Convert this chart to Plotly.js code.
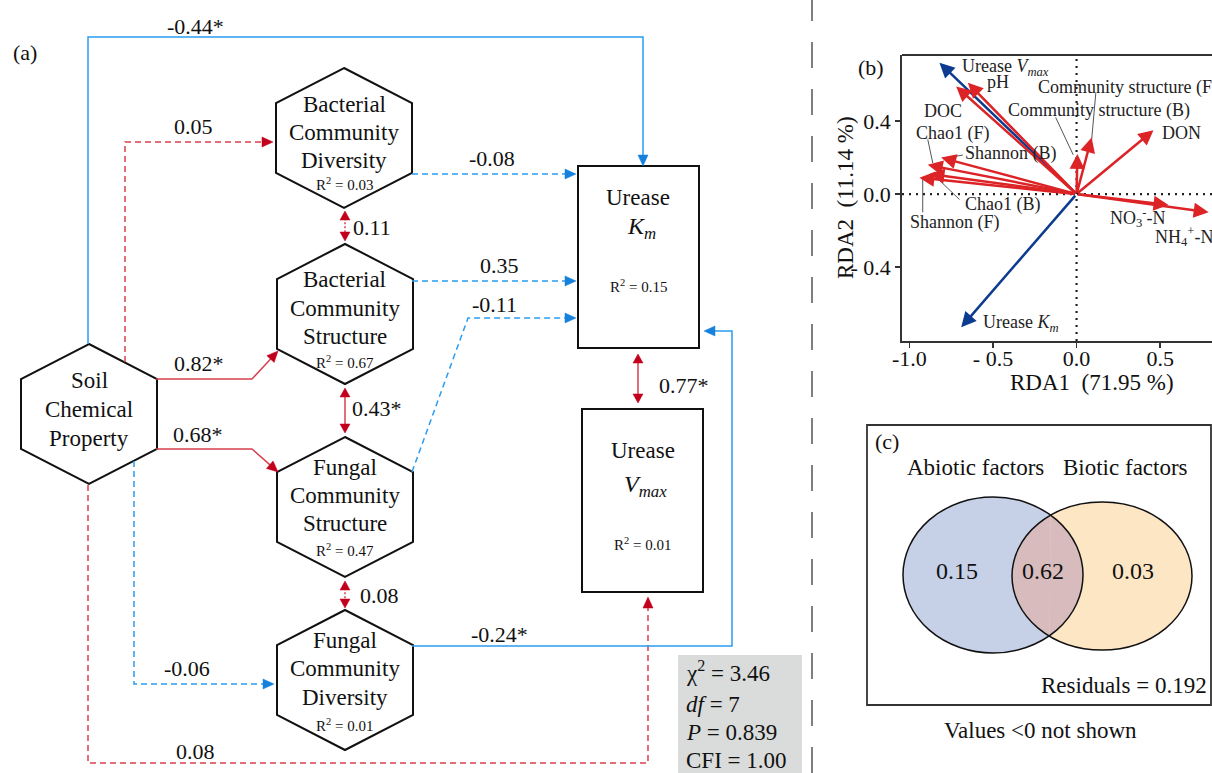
<!DOCTYPE html>
<html><head><meta charset="utf-8">
<script src="https://cdn.plot.ly/plotly-3.0.1.min.js"></script>
<style>html,body{margin:0;padding:0;background:#fff;}#chart{width:1212px;height:773px;}</style>
</head><body><div id="chart"></div>
<script>
// ================= DATA =================
// (a) structural equation model
const nodeLabels = [
  ['Soil', 'Chemical', 'Property'],
  ['Bacterial', 'Community', 'Diversity'],
  ['Bacterial', 'Community', 'Structure'],
  ['Fungal', 'Community', 'Structure'],
  ['Fungal', 'Community', 'Diversity']
];
const nodeR2 = [null, 0.03, 0.67, 0.47, 0.01];
const enzymeLabels = ['<i>K</i><sub><i>m</i></sub>', '<i>V</i><sub><i>max</i></sub>'];
const enzymeR2 = [0.15, 0.01];
// path coefficients (order: SCP->Km, SCP->BCD, SCP->BCS, SCP->FCS, SCP->FCD, SCP->Vmax,
// BCD->Km, BCS->Km, FCS->Km, FCD->Km, BCD<->BCS, BCS<->FCS, FCS<->FCD, Km<->Vmax)
const pathCoef = [-0.44, 0.05, 0.82, 0.68, -0.06, 0.08, -0.08, 0.35, -0.11, -0.24, 0.11, 0.43, 0.08, 0.77];
const pathSig  = [true, false, true, true, false, false, false, false, false, true, false, true, false, true];
// effect direction as coloured in the figure (red = positive, blue = negative)
const pathEffect = ['neg', 'pos', 'pos', 'pos', 'neg', 'pos', 'neg', 'neg', 'neg', 'neg', 'pos', 'pos', 'pos', 'pos'];
const pathIsCorrelation = [false, false, false, false, false, false, false, false, false, false, true, true, true, true];
const fitNames  = ['χ<sup>2</sup>', '<i>df</i>', '<i>P</i>', 'CFI'];
const fitValues = ['3.46', '7', '0.839', '1.00'];

// (b) RDA biplot
const rdaVars = ['Urease <i>V</i><sub><i>max</i></sub>', 'pH', 'DOC', 'Chao1 (F)', 'Shannon (B)', 'Shannon (F)',
  'Chao1 (B)', 'Community structure (B)', 'Community structure (F)', 'DON',
  'NO<sub>3</sub><sup>-</sup>-N', 'NH<sub>4</sub><sup>+</sup>-N', 'Urease <i>K</i><sub><i>m</i></sub>'];
const rdaX = [-0.82, -0.65, -0.72, -0.89, -0.81, -0.94, -0.88, 0.005, 0.09, 0.46, 0.55, 0.79, -0.69];
const rdaY = [0.72, 0.61, 0.59, 0.16, 0.20, 0.09, 0.11, 0.22, 0.31, 0.35, -0.06, -0.10, -0.73];
const rdaIsResponse = [true, false, false, false, false, false, false, false, false, false, false, false, true];
const rdaAxisTitles = ['RDA1  (71.95 %)', 'RDA2  (11.14 %)'];
const rdaXTicks = [-1.0, -0.5, 0.0, 0.5];
const rdaXTickText = ['-1.0', '- 0.5', '0.0', '0.5'];
const rdaYTicks = [-0.4, 0.0, 0.4];
const rdaYTickText = ['- 0.4', '0.0', '0.4'];

// (c) variation partitioning
const vennSets = ['Abiotic factors', 'Biotic factors'];
const vennValues = [0.15, 0.62, 0.03];
const vennResidual = 0.192;
const vennNote = 'Values <0 not shown';

// ================= LAYOUT HELPERS =================
const W = 1212, H = 773;
const FONT = '"Liberation Serif", "Times New Roman", Times, serif';
const px = x => x / W, py = y => 1 - y / H;
const f = v => v.toFixed(5);
function pathP(pts, close) {
  return pts.map((p, i) => (i ? 'L' : 'M') + f(px(p[0])) + ',' + f(py(p[1]))).join(' ') + (close ? ' Z' : '');
}
const shapes = [], annotations = [];
function txt(x, y, text, size, opts) {
  annotations.push(Object.assign({xref: 'paper', yref: 'paper', x: px(x), y: py(y), text: text, showarrow: false,
    xanchor: 'center', yanchor: 'middle', font: {family: FONT, size: size, color: '#111'}}, opts || {}));
}
function line(pts, color, width, dash) {
  shapes.push({type: 'path', xref: 'paper', yref: 'paper', path: pathP(pts, false),
    line: {color: color, width: width, dash: dash || 'solid'}, fillcolor: 'rgba(0,0,0,0)'});
}
function head(tip, from, color, L, w) {
  const dx = tip[0] - from[0], dy = tip[1] - from[1], len = Math.hypot(dx, dy);
  const ux = dx / len, uy = dy / len, nx = -uy, ny = ux;
  const bx = tip[0] - ux * L, by = tip[1] - uy * L;
  shapes.push({type: 'path', xref: 'paper', yref: 'paper',
    path: pathP([tip, [bx + nx * w, by + ny * w], [bx - nx * w, by - ny * w]], true),
    fillcolor: color, line: {color: color, width: 0.5}});
}
function pullBack(a, b, d) {
  const dx = b[0] - a[0], dy = b[1] - a[1], len = Math.hypot(dx, dy);
  return [b[0] - dx / len * d, b[1] - dy / len * d];
}

// ================= (a) SEM =================
const RED_LINE = '#d8404f', RED_HEAD = '#c3001c', BLUE_LINE = '#2b9cf0', BLUE_HEAD = '#1681dc';
const hexGeom = [{cx: 89, cy: 414}, {cx: 344, cy: 138}, {cx: 345, cy: 314}, {cx: 345, cy: 507}, {cx: 345, cy: 680}];
const hexTextDy = [[-34, -5, 24], [-34, -6, 22], [-34, -6, 22], [-40, -12, 16], [-40, -12, 17]];
const hexR2Dy = [0, 46, 48, 43, 45];
const HW = 68, HH = 70, HS = 35;
hexGeom.forEach((g, i) => {
  const {cx, cy} = g;
  shapes.push({type: 'path', xref: 'paper', yref: 'paper', line: {color: '#111', width: 2}, fillcolor: 'rgba(0,0,0,0)',
    path: pathP([[cx, cy - HH], [cx + HW, cy - HS], [cx + HW, cy + HS], [cx, cy + HH], [cx - HW, cy + HS], [cx - HW, cy - HS]], true)});
  nodeLabels[i].forEach((t, k) => txt(cx, cy + hexTextDy[i][k], t, 23));
  if (nodeR2[i] !== null) txt(cx, cy + hexR2Dy[i], 'R<sup>2</sup> = ' + nodeR2[i].toFixed(2), 15);
});
const boxGeom = [{x0: 578, x1: 699, y0: 166, y1: 348, ty: [197, 228, 286]}, {x0: 582, x1: 703, y0: 409, y1: 592, ty: [450, 486, 544]}];
boxGeom.forEach((b, i) => {
  shapes.push({type: 'rect', xref: 'paper', yref: 'paper', x0: px(b.x0), x1: px(b.x1), y0: py(b.y1), y1: py(b.y0),
    line: {color: '#111', width: 2}, fillcolor: 'rgba(0,0,0,0)'});
  const cx = (b.x0 + b.x1) / 2;
  txt(cx, b.ty[0], 'Urease', 23);
  txt(cx + 3, b.ty[1], enzymeLabels[i], 24);
  txt(cx, b.ty[2], 'R<sup>2</sup> = ' + enzymeR2[i].toFixed(2), 15);
});

const pathGeom = [
  {pts: [[88, 344], [88, 37], [643, 37], [643, 166]], lab: [195, 26]},
  {pts: [[125, 362], [125, 142], [273, 142]], lab: [193, 127]},
  {pts: [[156, 379], [252, 379], [278, 351]], lab: [199, 363]},
  {pts: [[156, 449], [252, 449], [278, 472]], lab: [198, 435]},
  {pts: [[134, 461], [134, 684], [274, 684]], lab: [187, 668]},
  {pts: [[88, 485], [88, 763], [648, 763], [648, 597]], lab: [196, 751]},
  {pts: [[412, 174], [576, 174]], lab: [492, 159]},
  {pts: [[412, 281], [576, 281]], lab: [499, 266]},
  {pts: [[412, 472], [468, 318], [576, 318]], lab: [495, 304]},
  {pts: [[412, 646], [732, 646], [732, 331], [704, 331]], lab: [499, 634]},
  {pts: [[345, 211], [345, 241]], lab: [372, 227]},
  {pts: [[345, 388], [345, 433]], lab: [377, 408]},
  {pts: [[345, 581], [345, 608]], lab: [379, 595]},
  {pts: [[638, 354], [638, 403]], lab: [684, 385]}
];
pathCoef.forEach((c, i) => {
  const g = pathGeom[i];
  const pos = pathEffect[i] === 'pos';
  const lc = pos ? RED_LINE : BLUE_LINE, hc = pos ? RED_HEAD : BLUE_HEAD;
  const pts = g.pts.map(p => p.slice());
  const n = pts.length;
  if (pathIsCorrelation[i]) {
    const L = 9, w = 5;
    const a = pts[0], b = pts[n - 1];
    const dash = pathSig[i] ? 'solid' : '2px,2px';
    line([pullBack(b, a, L * 0.8), pullBack(a, b, L * 0.8)], lc, 1.5, dash);
    head(b, a, hc, L, w);
    head(a, b, hc, L, w);
  } else {
    const L = 11, w = 5;
    const tip = pts[n - 1], prev = pts[n - 2];
    const linePts = pts.slice(0, n - 1).concat([pullBack(prev, tip, L * 0.8)]);
    line(linePts, lc, 1.5, pathSig[i] ? 'solid' : '6px,4px');
    head(tip, prev, hc, L, w);
  }
  txt(g.lab[0], g.lab[1], c.toFixed(2) + (pathSig[i] ? '*' : ''), 22);
});

// fit statistics box
shapes.push({type: 'rect', xref: 'paper', yref: 'paper', x0: px(678), x1: px(802), y0: py(773), y1: py(655),
  line: {width: 0}, fillcolor: '#d9dcda', layer: 'below'});
const fitY = [671, 704, 732, 760];
fitNames.forEach((nm, i) => txt(684, fitY[i], nm + ' = ' + fitValues[i], 23, {xanchor: 'left'}));

// separator
shapes.push({type: 'line', xref: 'paper', yref: 'paper', x0: px(812), x1: px(812), y0: py(773), y1: py(0),
  line: {color: '#555', width: 1.5, dash: '26px,21px'}});

// panel labels
txt(25, 52, '(a)', 22);
txt(871, 67, '(b)', 22);
txt(887, 442, '(c)', 22);

// ================= (b) RDA =================
const X_RANGE = [-1.044, 0.81], Y_RANGE = [-0.805, 0.762];
const RDA_RED = '#dc2326', RDA_BLUE = '#0c3b8f';
rdaVars.forEach((v, i) => {
  annotations.push({xref: 'x', yref: 'y', axref: 'x', ayref: 'y', x: rdaX[i], y: rdaY[i], ax: 0, ay: 0, text: '',
    showarrow: true, arrowhead: 2, arrowsize: 1.2, arrowwidth: 2.5, arrowcolor: rdaIsResponse[i] ? RDA_BLUE : RDA_RED, standoff: 0});
});
const rdaLabelPos = [
  [-0.70, 0.695, 'left'], [-0.47, 0.615, 'center'], [-0.80, 0.455, 'center'], [-0.97, 0.33, 'left'],
  [-0.68, 0.22, 'left'], [-1.01, -0.153, 'left'], [-0.68, -0.055, 'left'], [-0.42, 0.46, 'left'],
  [-0.24, 0.586, 'left'], [0.50, 0.334, 'left'], [0.19, -0.13, 'left'], [0.455, -0.235, 'left'], [-0.57, -0.71, 'left']
];
rdaVars.forEach((v, i) => {
  const p = rdaLabelPos[i];
  annotations.push({xref: 'x', yref: 'y', x: p[0], y: p[1], text: v, showarrow: false, xanchor: p[2], yanchor: 'middle',
    font: {family: FONT, size: 18, color: '#222'}});
});
const leaders = [
  [[0.115, 0.553], [0.09, 0.295]], [[-0.125, 0.42], [-0.02, 0.215]], [[-0.89, 0.30], [-0.86, 0.17]],
  [[-0.68, 0.214], [-0.77, 0.20]], [[-0.70, -0.03], [-0.84, 0.093]], [[-0.92, -0.10], [-0.92, 0.088]]
];
leaders.forEach(l => shapes.push({type: 'line', xref: 'x', yref: 'y', x0: l[0][0], y0: l[0][1], x1: l[1][0], y1: l[1][1],
  line: {color: '#555', width: 1}}));
shapes.push({type: 'line', xref: 'x', yref: 'y', x0: 0, x1: 0, y0: Y_RANGE[0], y1: Y_RANGE[1], line: {color: '#222', width: 2.2, dash: '2px,5px'}});
shapes.push({type: 'line', xref: 'x', yref: 'y', x0: X_RANGE[0], x1: X_RANGE[1], y0: 0, y1: 0, line: {color: '#222', width: 2.2, dash: '2px,5px'}});
shapes.push({type: 'line', xref: 'paper', yref: 'paper', x0: px(902), x1: 1, y0: py(55), y1: py(55), line: {color: '#333', width: 1.8}});
txt(1092, 383, rdaAxisTitles[0], 23);
txt(845, 198, rdaAxisTitles[1], 23, {textangle: -90});

// ================= (c) Venn =================
shapes.push({type: 'rect', xref: 'paper', yref: 'paper', x0: px(867), x1: px(1211), y0: py(705), y1: py(425),
  line: {color: '#333', width: 1.8}, fillcolor: 'rgba(0,0,0,0)'});
const E1 = {cx: 993, cy: 575, rx: 90, ry: 78}, E2 = {cx: 1102, cy: 576, rx: 90, ry: 74};
function ell(e, fill, lw) {
  shapes.push({type: 'circle', xref: 'paper', yref: 'paper', x0: px(e.cx - e.rx), x1: px(e.cx + e.rx),
    y0: py(e.cy + e.ry), y1: py(e.cy - e.ry), fillcolor: fill, line: {color: '#111', width: lw}});
}
ell(E1, '#c6d0e6', 0);
ell(E2, '#fde6c4', 0);
const inside = (e, x, y) => ((x - e.cx) / e.rx) ** 2 + ((y - e.cy) / e.ry) ** 2 <= 1;
const lens = [];
for (let k = -900; k <= 900; k++) { const t = k / 1000 * Math.PI / 2 * 1.2; const x = E1.cx + E1.rx * Math.cos(t), y = E1.cy + E1.ry * Math.sin(t); if (inside(E2, x, y)) lens.push([x, y]); }
for (let k = -900; k <= 900; k++) { const t = Math.PI + k / 1000 * Math.PI / 2 * 1.2; const x = E2.cx + E2.rx * Math.cos(-t), y = E2.cy + E2.ry * Math.sin(-t); if (inside(E1, x, y)) lens.push([x, y]); }
shapes.push({type: 'path', xref: 'paper', yref: 'paper', path: pathP(lens, true), fillcolor: '#d8bcbd', line: {width: 0}});
ell(E1, 'rgba(0,0,0,0)', 1.5);
ell(E2, 'rgba(0,0,0,0)', 1.5);
txt(975, 467, vennSets[0], 23);
txt(1125, 467, vennSets[1], 23);
txt(957, 571, vennValues[0].toFixed(2), 24);
txt(1043, 571, vennValues[1].toFixed(2), 24);
txt(1133, 571, vennValues[2].toFixed(2), 24);
txt(1209, 685, 'Residuals = ' + vennResidual.toFixed(3), 23, {xanchor: 'right'});
txt(1040, 730, vennNote.replace('<', '&lt;'), 23);

// ================= PLOT =================
const traces = [{type: 'scatter', x: rdaX, y: rdaY, mode: 'markers', marker: {opacity: 0}, hoverinfo: 'skip', showlegend: false}];
const layout = {
  width: W, height: H, margin: {l: 0, r: 0, t: 0, b: 0}, paper_bgcolor: '#fff', plot_bgcolor: 'rgba(0,0,0,0)',
  showlegend: false, hovermode: false,
  font: {family: FONT},
  xaxis: {domain: [902 / W, 1], range: X_RANGE, showgrid: false, zeroline: false, showline: true, linecolor: '#333', linewidth: 1.8,
    ticks: 'outside', ticklen: 5, tickwidth: 1.5, tickcolor: '#333', tickvals: rdaXTicks, ticktext: rdaXTickText,
    ticklabelstandoff: -8, tickfont: {family: FONT, size: 22, color: '#111'}, fixedrange: true},
  yaxis: {domain: [1 - 341 / H, 1 - 55 / H], range: Y_RANGE, showgrid: false, zeroline: false, showline: true, linecolor: '#333', linewidth: 1.8,
    ticks: 'outside', ticklen: 5, tickwidth: 1.5, tickcolor: '#333', tickvals: rdaYTicks, ticktext: rdaYTickText,
    tickfont: {family: FONT, size: 22, color: '#111'}, fixedrange: true},
  shapes: shapes, annotations: annotations
};
Plotly.newPlot('chart', traces, layout, {displayModeBar: false, staticPlot: true});
</script></body></html>
